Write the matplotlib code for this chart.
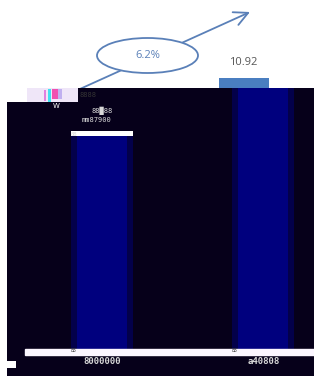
import matplotlib
matplotlib.use("Agg")
import matplotlib.pyplot as plt
from matplotlib.patches import Rectangle, Ellipse, Polygon

# ---- data ----
categories = ["2009", "2014"]
values = [8.79, 10.92]
value_labels = ["8.79", "10.92"]
growth_label = "6.2%"

W, H = 314, 376
fig = plt.figure(figsize=(W / 100, H / 100), dpi=100)
ax = fig.add_axes([0, 0, 1, 1])
ax.set_facecolor("white")

# scales: category index -> pixels x = 101.5 + 161*i ; value -> pixel y = 349 - 24.8*v
px0, pstep = 101.5, 161.0
ypx0, ppu = 349.0, 24.8
ax.set_xlim(-px0 / pstep, (W - px0) / pstep)
ax.set_ylim(-(H - ypx0) / ppu, ypx0 / ppu)
ax.axis("off")

def fx(x):
    return x / W

def fy(y):
    return 1 - y / H

def frect(x0, y0, x1, y1, **kw):
    r = Rectangle((fx(x0), fy(y1)), fx(x1) - fx(x0), fy(y0) - fy(y1),
                  transform=fig.transFigure, clip_on=False, **kw)
    ax.add_patch(r)
    return r

idx = list(range(len(categories)))

# light blue bars (visible only above dark overlay)
ax.bar([i - 19 / pstep for i in idx], values, width=50 / pstep, color="#4a7ec0", zorder=1)

# dark overlay region
dark = "#06001a"
poly = Polygon([(fx(7), fy(376)), (fx(314), fy(376)), (fx(314), fy(88)), (fx(78), fy(88)),
                (fx(78), fy(102)), (fx(7), fy(102))], closed=True,
               transform=fig.transFigure, facecolor=dark, edgecolor="none", zorder=2, clip_on=False)
ax.add_patch(poly)

# navy bars within dark region (blurred edges)
glow = ax.bar(idx, values, width=62 / pstep, color="#03004a", zorder=3)
core = ax.bar(idx, values, width=50 / pstep, color="#00007e", zorder=4)
for b in list(glow) + list(core):
    b.set_clip_path(poly)

# white bar-top strip on first bar (glitch)
ax.bar([0 + 0.5 / pstep], [0.22], bottom=[values[0] - 0.22], width=62 / pstep,
       color="white", zorder=5)

# white baseline
ax.axhspan(-0.26, 0, xmin=25 / W, xmax=1, color="#fbf6ff", zorder=5)

# glitch patch top-left
frect(27, 88, 78, 102, facecolor="#efe6f8", edgecolor="none", zorder=3)
frect(44, 90, 46, 101, facecolor="#e080e0", edgecolor="none", zorder=3)
frect(48, 89, 51, 102, facecolor="#40e0f0", edgecolor="none", zorder=3)
frect(52, 89, 58, 99, facecolor="#f050b0", edgecolor="none", zorder=3)
frect(58, 89, 62, 99, facecolor="#c0b0f0", edgecolor="none", zorder=3)
frect(7, 361, 16, 368, facecolor="white", edgecolor="none", zorder=3)

# garbled small texts
gcol = "#d8d8d8"
fig.text(fx(88), fy(95), "8888", color="#333333", fontsize=5, ha="center", va="center",
         family="DejaVu Sans Mono", zorder=6)
fig.text(fx(56), fy(106), "W", color="white", fontsize=5, ha="center", va="center", zorder=6)
fig.text(fx(102), fy(111), "88\u258888", color=gcol, fontsize=5, ha="center", va="center",
         family="DejaVu Sans Mono", zorder=6)
fig.text(fx(97), fy(120), "mm" + value_labels[0].replace(".", "") + "00", color=gcol, fontsize=5,
         ha="center", va="center", family="DejaVu Sans Mono", zorder=6)
fig.text(fx(74), fy(134), "88", color=gcol, fontsize=4, ha="center", va="center",
         family="DejaVu Sans Mono", zorder=6)
for i, lab in zip(idx, ["8000000", "a40808"]):
    fig.text(fx(px0 + pstep * i + 1), fy(362), lab, color=gcol, fontsize=6.5, ha="center",
             va="center", family="DejaVu Sans Mono", weight="bold", zorder=6)
    fig.text(fx(px0 + pstep * i - 28), fy(351), "88", color="#333333", fontsize=3.5,
             ha="center", va="center", family="DejaVu Sans Mono", zorder=6)

# value label on the tall bar
fig.text(fx(px0 + pstep * 1 - 19), fy(ypx0 - ppu * values[1] - 16), value_labels[1],
         color="#555555", fontsize=8, ha="center", va="center", family="Open Sans", zorder=6)

# growth arrow and ellipse
arrow_col = "#5a80b8"
ax.annotate("", xy=(fx(250), fy(12)), xytext=(fx(60), fy(98)),
            xycoords="figure fraction", textcoords="figure fraction",
            arrowprops=dict(arrowstyle="->,head_length=1.0,head_width=0.5", color=arrow_col,
                            lw=1.3, shrinkA=0, shrinkB=0), zorder=1)
ell = Ellipse((fx(147.5), fy(55.5)), fx(101), 35 / H, transform=fig.transFigure,
              facecolor="white", edgecolor=arrow_col, lw=1.3, zorder=1.5, clip_on=False)
ax.add_patch(ell)
fig.text(fx(147.5), fy(55), growth_label, color=arrow_col, fontsize=8, ha="center",
         va="center", family="Open Sans", zorder=6)

fig.savefig("out.png", dpi=100)
